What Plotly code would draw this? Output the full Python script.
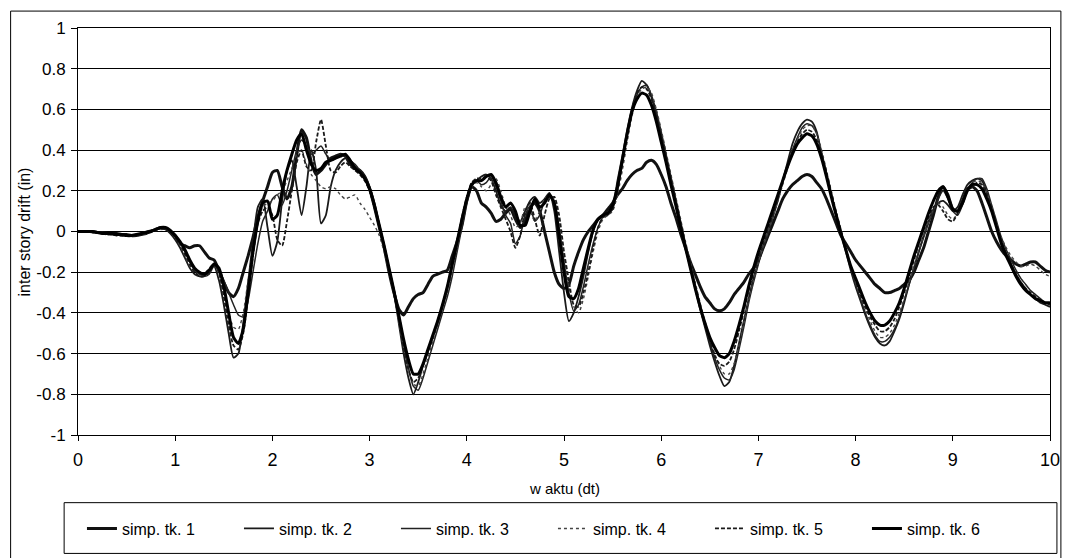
import plotly.graph_objects as go

# time axis (s), sampled every 0.05 s from 0 to 10
time = [round(i * 0.05, 2) for i in range(201)]

# inter story drift (in), one row per second (20 samples) + final value at 10 s
tk1 = [
    0, 0, 0, 0, -0.005, -0.005, -0.01, -0.01, -0.01, -0.015, -0.015, -0.02, -0.02, -0.015, -0.01, 0.0, 0.01, 0.02, 0.015, 0.0,
    -0.02, -0.06, -0.07, -0.08, -0.07, -0.07, -0.10, -0.13, -0.14, -0.19, -0.25, -0.30, -0.32, -0.28, -0.20, -0.12, -0.03, 0.07, 0.15, 0.22,
    0.29, 0.30, 0.22, 0.16, 0.22, 0.38, 0.50, 0.46, 0.34, 0.28, 0.30, 0.33, 0.36, 0.37, 0.38, 0.37, 0.33, 0.31, 0.30, 0.27,
    0.21, 0.12, 0.02, -0.08, -0.20, -0.30, -0.38, -0.41, -0.37, -0.33, -0.31, -0.30, -0.26, -0.22, -0.21, -0.20, -0.19, -0.12, -0.05, 0.03,
    0.15, 0.22, 0.20, 0.14, 0.12, 0.09, 0.05, 0.06, 0.09, 0.11, 0.06, 0.02, 0.05, 0.12, 0.14, 0.10, 0.00, -0.10, -0.20, -0.26,
    -0.28, -0.26, -0.17, -0.10, -0.04, 0.00, 0.03, 0.06, 0.08, 0.11, 0.14, 0.18, 0.21, 0.25, 0.28, 0.30, 0.31, 0.34, 0.35, 0.33,
    0.28, 0.22, 0.14, 0.07, -0.01, -0.08, -0.15, -0.21, -0.27, -0.32, -0.35, -0.38, -0.39, -0.38, -0.35, -0.31, -0.28, -0.25, -0.21, -0.18,
    -0.14, -0.08, -0.02, 0.04, 0.10, 0.16, 0.20, 0.23, 0.25, 0.27, 0.28, 0.27, 0.24, 0.21, 0.16, 0.10, 0.04, -0.02, -0.06, -0.10,
    -0.14, -0.17, -0.20, -0.23, -0.26, -0.28, -0.30, -0.30, -0.29, -0.28, -0.26, -0.24, -0.20, -0.14, -0.08, 0.00, 0.08, 0.17, 0.22, 0.18,
    0.11, 0.10, 0.15, 0.21, 0.22, 0.20, 0.14, 0.07, 0.00, -0.05, -0.09, -0.12, -0.14, -0.16, -0.17, -0.16, -0.15, -0.15, -0.17, -0.19,
    -0.20,
]

tk2 = [
    0, 0, 0, 0, -0.005, -0.01, -0.01, -0.015, -0.015, -0.02, -0.02, -0.02, -0.015, -0.01, 0.0, 0.005, 0.01, 0.015, 0.01, -0.01,
    -0.04, -0.08, -0.13, -0.18, -0.21, -0.22, -0.22, -0.19, -0.17, -0.24, -0.36, -0.50, -0.62, -0.60, -0.45, -0.25, -0.05, 0.12, 0.16, 0.02,
    -0.12, -0.05, 0.15, 0.30, 0.35, 0.22, 0.08, 0.22, 0.40, 0.30, 0.04, 0.08, 0.22, 0.30, 0.34, 0.36, 0.35, 0.32, 0.30, 0.27,
    0.22, 0.14, 0.03, -0.08, -0.18, -0.30, -0.45, -0.60, -0.72, -0.80, -0.74, -0.66, -0.59, -0.52, -0.45, -0.37, -0.28, -0.17, -0.06, 0.06,
    0.16, 0.23, 0.25, 0.27, 0.28, 0.26, 0.20, 0.13, 0.10, 0.12, 0.08, 0.05, 0.10, 0.15, 0.17, 0.14, 0.16, 0.19, 0.10, -0.10,
    -0.30, -0.44, -0.40, -0.32, -0.22, -0.10, 0.00, 0.06, 0.08, 0.09, 0.12, 0.25, 0.37, 0.50, 0.61, 0.69, 0.74, 0.72, 0.66, 0.57,
    0.47, 0.36, 0.25, 0.14, 0.03, -0.08, -0.18, -0.28, -0.38, -0.47, -0.56, -0.64, -0.71, -0.76, -0.74, -0.66, -0.55, -0.44, -0.33, -0.23,
    -0.15, -0.07, 0.00, 0.08, 0.16, 0.25, 0.34, 0.43, 0.49, 0.53, 0.55, 0.54, 0.49, 0.38, 0.28, 0.18, 0.08, -0.01, -0.10, -0.19,
    -0.27, -0.34, -0.41, -0.47, -0.52, -0.55, -0.56, -0.54, -0.49, -0.43, -0.35, -0.26, -0.18, -0.10, -0.02, 0.05, 0.11, 0.14, 0.15, 0.13,
    0.10, 0.12, 0.18, 0.23, 0.25, 0.26, 0.25, 0.19, 0.11, 0.03, -0.05, -0.11, -0.16, -0.21, -0.25, -0.28, -0.31, -0.33, -0.35, -0.36,
    -0.37,
]

tk3 = [
    0, 0, 0, -0.005, -0.005, -0.01, -0.01, -0.01, -0.015, -0.015, -0.02, -0.02, -0.02, -0.015, -0.01, 0.0, 0.01, 0.015, 0.015, 0.005,
    -0.02, -0.05, -0.10, -0.15, -0.19, -0.21, -0.22, -0.21, -0.17, -0.19, -0.24, -0.30, -0.36, -0.41, -0.42, -0.34, -0.20, -0.06, 0.05, 0.10,
    0.16, 0.18, 0.13, 0.20, 0.30, 0.40, 0.45, 0.42, 0.38, 0.40, 0.42, 0.38, 0.35, 0.36, 0.38, 0.37, 0.35, 0.33, 0.30, 0.26,
    0.20, 0.12, 0.02, -0.08, -0.18, -0.28, -0.40, -0.54, -0.67, -0.76, -0.78, -0.72, -0.64, -0.56, -0.48, -0.40, -0.32, -0.22, -0.10, 0.02,
    0.14, 0.22, 0.25, 0.23, 0.24, 0.27, 0.22, 0.15, 0.08, 0.04, -0.06, -0.02, 0.08, 0.12, 0.05, 0.08, 0.15, 0.17, 0.14, 0.02,
    -0.15, -0.30, -0.39, -0.36, -0.27, -0.16, -0.06, 0.02, 0.07, 0.08, 0.11, 0.20, 0.33, 0.47, 0.59, 0.67, 0.71, 0.72, 0.67, 0.59,
    0.49, 0.38, 0.27, 0.16, 0.05, -0.06, -0.16, -0.26, -0.36, -0.45, -0.54, -0.62, -0.68, -0.72, -0.73, -0.68, -0.58, -0.47, -0.35, -0.25,
    -0.16, -0.08, -0.01, 0.07, 0.15, 0.24, 0.32, 0.40, 0.46, 0.51, 0.53, 0.52, 0.48, 0.39, 0.29, 0.19, 0.09, 0.00, -0.09, -0.18,
    -0.26, -0.33, -0.40, -0.46, -0.51, -0.54, -0.54, -0.52, -0.48, -0.42, -0.34, -0.26, -0.18, -0.10, -0.03, 0.04, 0.10, 0.16, 0.20, 0.16,
    0.10, 0.08, 0.13, 0.20, 0.24, 0.26, 0.26, 0.21, 0.13, 0.05, -0.03, -0.09, -0.14, -0.19, -0.23, -0.26, -0.29, -0.31, -0.33, -0.35,
    -0.36,
]

tk4 = [
    0, 0, 0, 0, -0.005, -0.01, -0.01, -0.015, -0.02, -0.02, -0.02, -0.025, -0.02, -0.015, -0.01, 0.0, 0.005, 0.01, 0.01, 0.0,
    -0.03, -0.07, -0.12, -0.17, -0.20, -0.22, -0.21, -0.18, -0.16, -0.21, -0.30, -0.40, -0.47, -0.48, -0.40, -0.24, -0.08, 0.06, 0.12, 0.14,
    0.15, 0.18, 0.20, 0.25, 0.31, 0.38, 0.40, 0.33, 0.28, 0.25, 0.22, 0.21, 0.22, 0.21, 0.18, 0.16, 0.17, 0.18, 0.14, 0.11,
    0.07, 0.03, -0.02, -0.10, -0.20, -0.31, -0.44, -0.57, -0.68, -0.75, -0.76, -0.70, -0.62, -0.54, -0.46, -0.38, -0.30, -0.20, -0.08, 0.04,
    0.15, 0.22, 0.24, 0.22, 0.20, 0.23, 0.26, 0.20, 0.12, 0.08, 0.02, 0.04, 0.12, 0.10, 0.05, 0.10, 0.16, 0.18, 0.15, 0.05,
    -0.12, -0.27, -0.37, -0.40, -0.33, -0.22, -0.10, 0.00, 0.06, 0.08, 0.10, 0.18, 0.30, 0.44, 0.57, 0.66, 0.70, 0.71, 0.68, 0.60,
    0.50, 0.39, 0.28, 0.17, 0.06, -0.05, -0.15, -0.25, -0.35, -0.44, -0.52, -0.60, -0.66, -0.70, -0.70, -0.65, -0.56, -0.45, -0.34, -0.24,
    -0.15, -0.07, 0.00, 0.07, 0.15, 0.23, 0.31, 0.39, 0.45, 0.50, 0.52, 0.52, 0.48, 0.40, 0.30, 0.20, 0.10, 0.01, -0.08, -0.17,
    -0.25, -0.32, -0.38, -0.44, -0.49, -0.52, -0.52, -0.50, -0.46, -0.40, -0.33, -0.25, -0.17, -0.09, -0.02, 0.05, 0.11, 0.14, 0.12, 0.08,
    0.06, 0.09, 0.15, 0.21, 0.24, 0.25, 0.24, 0.19, 0.12, 0.04, -0.03, -0.08, -0.12, -0.15, -0.17, -0.17, -0.16, -0.17, -0.19, -0.21,
    -0.22,
]

tk5 = [
    0, 0, 0, -0.005, -0.005, -0.01, -0.015, -0.015, -0.02, -0.02, -0.02, -0.02, -0.02, -0.015, -0.005, 0.0, 0.01, 0.015, 0.01, 0.0,
    -0.03, -0.06, -0.11, -0.16, -0.20, -0.22, -0.22, -0.20, -0.16, -0.20, -0.32, -0.46, -0.56, -0.58, -0.50, -0.32, -0.12, 0.04, 0.10, 0.12,
    0.08, -0.04, -0.07, 0.05, 0.20, 0.34, 0.40, 0.32, 0.30, 0.44, 0.55, 0.42, 0.30, 0.29, 0.32, 0.34, 0.32, 0.30, 0.28, 0.25,
    0.20, 0.12, 0.03, -0.07, -0.18, -0.30, -0.43, -0.57, -0.68, -0.74, -0.72, -0.66, -0.59, -0.52, -0.44, -0.36, -0.27, -0.16, -0.05, 0.07,
    0.17, 0.24, 0.26, 0.26, 0.27, 0.25, 0.18, 0.12, 0.06, 0.00, -0.08, -0.02, 0.10, 0.14, 0.06, -0.02, 0.08, 0.16, 0.17, 0.08,
    -0.10, -0.24, -0.36, -0.37, -0.30, -0.20, -0.08, 0.02, 0.07, 0.09, 0.11, 0.21, 0.35, 0.48, 0.60, 0.68, 0.71, 0.70, 0.65, 0.57,
    0.47, 0.37, 0.26, 0.15, 0.04, -0.07, -0.17, -0.27, -0.37, -0.46, -0.54, -0.61, -0.65, -0.66, -0.64, -0.58, -0.49, -0.39, -0.29, -0.20,
    -0.12, -0.05, 0.02, 0.09, 0.17, 0.25, 0.32, 0.39, 0.44, 0.48, 0.50, 0.49, 0.45, 0.38, 0.29, 0.19, 0.09, 0.00, -0.09, -0.17,
    -0.24, -0.31, -0.37, -0.42, -0.46, -0.49, -0.49, -0.47, -0.43, -0.37, -0.30, -0.22, -0.14, -0.06, 0.01, 0.07, 0.12, 0.13, 0.10, 0.06,
    0.05, 0.09, 0.15, 0.20, 0.22, 0.24, 0.23, 0.18, 0.11, 0.03, -0.05, -0.11, -0.16, -0.21, -0.25, -0.28, -0.30, -0.32, -0.34, -0.35,
    -0.36,
]

tk6 = [
    0, 0, 0, 0, -0.005, -0.01, -0.01, -0.01, -0.015, -0.015, -0.02, -0.02, -0.015, -0.01, -0.005, 0.0, 0.01, 0.02, 0.02, 0.005,
    -0.02, -0.05, -0.09, -0.14, -0.18, -0.20, -0.21, -0.19, -0.16, -0.18, -0.27, -0.40, -0.52, -0.55, -0.48, -0.30, -0.10, 0.05, 0.14, 0.15,
    0.06, 0.08, 0.20, 0.30, 0.38, 0.45, 0.48, 0.40, 0.33, 0.30, 0.31, 0.34, 0.35, 0.36, 0.37, 0.38, 0.35, 0.31, 0.29, 0.26,
    0.21, 0.13, 0.03, -0.07, -0.18, -0.29, -0.41, -0.53, -0.63, -0.70, -0.70, -0.65, -0.58, -0.51, -0.44, -0.36, -0.27, -0.16, -0.05, 0.06,
    0.16, 0.23, 0.25, 0.25, 0.27, 0.28, 0.24, 0.17, 0.12, 0.14, 0.10, 0.03, 0.03, 0.10, 0.16, 0.12, 0.14, 0.18, 0.14, -0.02,
    -0.20, -0.32, -0.33, -0.28, -0.18, -0.08, 0.01, 0.06, 0.08, 0.09, 0.13, 0.22, 0.35, 0.48, 0.59, 0.65, 0.68, 0.67, 0.62, 0.54,
    0.44, 0.34, 0.23, 0.13, 0.02, -0.08, -0.18, -0.28, -0.37, -0.45, -0.52, -0.57, -0.61, -0.62, -0.60, -0.54, -0.46, -0.37, -0.27, -0.18,
    -0.10, -0.03, 0.04, 0.11, 0.18, 0.25, 0.32, 0.38, 0.43, 0.46, 0.48, 0.47, 0.43, 0.36, 0.27, 0.17, 0.08, -0.01, -0.09, -0.17,
    -0.23, -0.29, -0.35, -0.40, -0.44, -0.46, -0.46, -0.44, -0.40, -0.35, -0.28, -0.20, -0.12, -0.05, 0.02, 0.09, 0.15, 0.20, 0.22, 0.17,
    0.11, 0.10, 0.14, 0.20, 0.23, 0.23, 0.21, 0.16, 0.10, 0.02, -0.06, -0.12, -0.17, -0.22, -0.26, -0.29, -0.31, -0.33, -0.34, -0.35,
    -0.35,
]

series_names = ["simp. tk. 1", "simp. tk. 2", "simp. tk. 3", "simp. tk. 4", "simp. tk. 5", "simp. tk. 6"]
series_values = [tk1, tk2, tk3, tk4, tk5, tk6]

y_tick_vals = [1, 0.8, 0.6, 0.4, 0.2, 0, -0.2, -0.4, -0.6, -0.8, -1]
y_tick_text = ["1", "0.8", "0.6", "0.4", "0.2", "0", "-0.2", "-0.4", "-0.6", "-0.8", "-1"]
x_tick_vals = [0, 1, 2, 3, 4, 5, 6, 7, 8, 9, 10]
x_tick_text = ["0", "1", "2", "3", "4", "5", "6", "7", "8", "9", "10"]

x_title = "w aktu (dt)"
y_title = "inter story drift (in)"

for name, vals in zip(series_names, series_values):
    if len(vals) != len(time):
        raise ValueError(f"{name} has {len(vals)} values, expected {len(time)}")

styles = [
    dict(color="#111111", width=3.0, dash="solid"),
    dict(color="#1a1a1a", width=1.8, dash="solid"),
    dict(color="#222222", width=1.5, dash="solid"),
    dict(color="#444444", width=1.4, dash="dot"),
    dict(color="#1a1a1a", width=1.8, dash="4px,2px"),
    dict(color="#000000", width=3.0, dash="solid"),
]

FONT = "Liberation Sans, Arial, sans-serif"

fig = go.Figure()
for name, vals, st in zip(series_names, series_values, styles):
    fig.add_trace(go.Scatter(
        x=time, y=vals, mode="lines", name=name,
        line=dict(color=st["color"], width=st["width"], dash=st["dash"], shape="spline", smoothing=0.6),
    ))

W, H = 1072, 558
L, R, T, B = 78, 13, 28, 121
pw, ph = W - L - R, H - T - B


def px_x(p):
    return (p - L) / pw


def px_y(p):
    return (H - B - p) / ph


fig.update_layout(
    width=W, height=H,
    margin=dict(l=L, r=R, t=T, b=B),
    paper_bgcolor="white", plot_bgcolor="white",
    font=dict(family=FONT, color="black", size=14),
    showlegend=True,
    legend=dict(
        orientation="h", x=px_x(82), y=px_y(531), xanchor="left", yanchor="middle",
        font=dict(size=16, family=FONT, color="black"),
        entrywidth=112, entrywidthmode="pixels",
        bgcolor="rgba(0,0,0,0)", borderwidth=0, itemwidth=30,
    ),
    xaxis=dict(
        range=[0, 10], tickvals=x_tick_vals, ticktext=x_tick_text,
        ticks="outside", ticklen=5, tickcolor="black", tickwidth=1,
        showline=True, linecolor="black", linewidth=1, mirror=True,
        showgrid=False, zeroline=False, ticklabelstandoff=3,
        tickfont=dict(size=18, family=FONT, color="black"),
    ),
    yaxis=dict(
        range=[-1, 1], tickvals=y_tick_vals, ticktext=y_tick_text,
        ticks="outside", ticklen=6, tickcolor="black", tickwidth=1,
        showline=True, linecolor="black", linewidth=1, mirror=True,
        showgrid=True, gridcolor="black", gridwidth=1, zeroline=False,
        ticklabelstandoff=2,
        tickfont=dict(size=17, family=FONT, color="black"),
    ),
    shapes=[
        # outer chart frame
        dict(type="rect", xref="paper", yref="paper",
             x0=px_x(10), x1=px_x(1070), y0=px_y(600), y1=px_y(11),
             line=dict(color="black", width=1), fillcolor="rgba(0,0,0,0)", layer="below"),
        # legend frame
        dict(type="rect", xref="paper", yref="paper",
             x0=px_x(64), x1=px_x(1066), y0=px_y(556), y1=px_y(505),
             line=dict(color="black", width=1), fillcolor="rgba(0,0,0,0)", layer="below"),
    ],
    annotations=[
        dict(text=x_title, xref="paper", yref="paper", x=0.5, y=px_y(491),
             xanchor="center", yanchor="middle", showarrow=False,
             font=dict(size=15, family=FONT, color="black")),
        dict(text=y_title, xref="paper", yref="paper", x=px_x(25), y=px_y(233),
             xanchor="center", yanchor="middle", showarrow=False, textangle=-90,
             font=dict(size=16, family=FONT, color="black")),
    ],
)

fig.write_html(
    "out.html",
    config={"displayModeBar": False},
    post_script="document.body.style.margin='0px';document.body.style.overflow='hidden';",
)
